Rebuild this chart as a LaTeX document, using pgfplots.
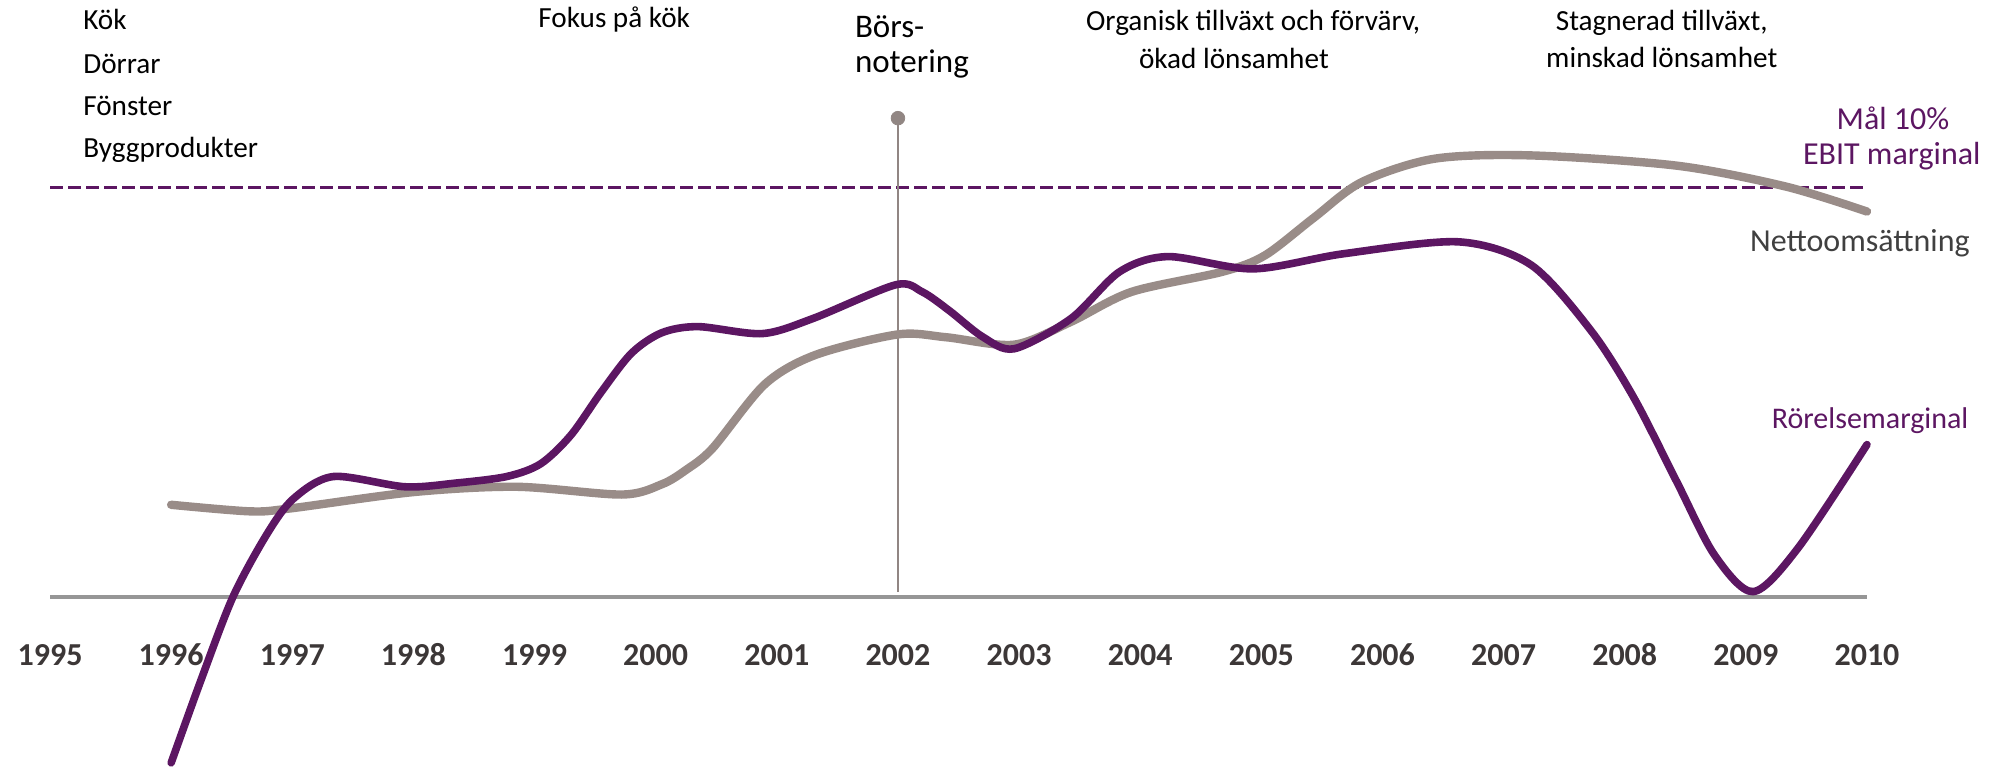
\documentclass[border=0pt]{standalone}
\usepackage{fontspec}
\setmainfont{Carlito}
\usepackage{pgfplots}
\pgfplotsset{compat=1.18}
\definecolor{nobpurple}{RGB}{92,22,98}
\definecolor{nobgray}{RGB}{153,140,136}
\definecolor{linegray}{RGB}{145,134,131}
\definecolor{basegray}{RGB}{150,150,150}
\definecolor{ticktext}{RGB}{60,55,55}
\definecolor{netto}{RGB}{64,64,64}
\begin{document}
\begin{tikzpicture}
\begin{axis}[
  width=1003.5pt, height=385.5pt, scale only axis,
  xmin=1994.587, xmax=2011.156, ymin=-4.25, ymax=14.575,
  axis x line=middle, axis y line=none,
  x axis line style={draw=none},
  xtick={1995,1996,1997,1998,1999,2000,2001,2002,2003,2004,2005,2006,2007,2008,2009,2010},
  xticklabels={1995,1996,1997,1998,1999,2000,2001,2002,2003,2004,2005,2006,2007,2008,2009,2010},
  major tick length=0pt,
  xticklabel style={anchor=center, yshift=-29pt, font=\fontsize{16}{19}\selectfont\bfseries, text=ticktext},
  ytick=\empty,
]
% baseline
\addplot[basegray, line width=1.6pt] coordinates {(1995,0) (2010,0)};
% target 10% dashed
\addplot[nobpurple, line width=1.5pt, dash pattern=on 6.5pt off 2.5pt] coordinates {(1995,10) (2010,10)};
% listing line
\addplot[linegray, line width=1.4pt] coordinates {(2002,0.12) (2002,11.69)};
\addplot[linegray, only marks, mark=*, mark size=3.4pt] coordinates {(2002,11.69)};
% Nettoomsättning
\addplot[nobgray, line width=4.2pt, smooth, line cap=round] coordinates {
(1996.00,2.25) (1996.65,2.09) (1996.98,2.16) (1998.00,2.56) (1998.85,2.69)
(1999.72,2.50) (2000.05,2.75) (2000.25,3.10) (2000.47,3.63) (2000.90,5.19) (2001.32,5.91)
(2002.00,6.41) (2002.40,6.34) (2002.96,6.16) (2003.43,6.72) (2003.93,7.45)
(2004.68,7.94) (2005.03,8.34) (2005.43,9.25) (2005.83,10.13) (2006.43,10.70)
(2007.23,10.78) (2008.43,10.53) (2009.33,10.02) (2010.00,9.41)};
% Rörelsemarginal
\addplot[nobpurple, line width=3.8pt, smooth, line cap=round] coordinates {
(1996.00,-4.05) (1996.25,-2.0) (1996.51,0.0) (1996.79,1.53) (1997.01,2.40)
(1997.34,2.94) (1997.93,2.69) (1998.35,2.78) (1998.77,2.94) (1999.05,3.25)
(1999.30,3.95) (1999.55,5.00) (1999.80,5.95) (2000.05,6.45) (2000.35,6.60)
(2000.88,6.43) (2001.30,6.80) (2001.98,7.62) (2002.20,7.45) (2002.42,7.00)
(2002.70,6.35) (2002.96,6.06) (2003.43,6.80)
(2003.83,7.94) (2004.23,8.31) (2004.93,8.01) (2005.68,8.38) (2006.63,8.67)
(2007.23,8.10) (2007.73,6.47) (2008.08,4.84) (2008.43,2.81) (2008.74,1.03)
(2009.06,0.13) (2009.43,1.19) (2010.00,3.72)};
% annotations
\begin{scope}[font=\fontsize{14.6}{17}\selectfont]
\node[anchor=west] at (rel axis cs:0.038,0.975) {Kök};
\node[anchor=west] at (rel axis cs:0.038,0.917) {Dörrar};
\node[anchor=west] at (rel axis cs:0.038,0.862) {Fönster};
\node[anchor=west] at (rel axis cs:0.038,0.806) {Byggprodukter};
\node at (rel axis cs:0.306,0.975) {Fokus på kök};
\node at (rel axis cs:0.6244,0.970) {Organisk tillväxt och förvärv,};
\node at (rel axis cs:0.6148,0.924) {ökad lönsamhet};
\node at (rel axis cs:0.828,0.970) {Stagnerad tillväxt,};
\node at (rel axis cs:0.828,0.925) {minskad lönsamhet};
\end{scope}
\node[anchor=west, font=\fontsize{16.5}{19}\selectfont] at (rel axis cs:0.4225,0.965) {Börs-};
\node[anchor=west, font=\fontsize{16.5}{19}\selectfont] at (rel axis cs:0.4225,0.917) {notering};
\node[text=nobpurple, font=\fontsize{16}{19}\selectfont] at (rel axis cs:0.9432,0.847) {Mål 10\%};
\node[text=nobpurple, font=\fontsize{16}{19}\selectfont] at (rel axis cs:0.9426,0.797) {EBIT marginal};
\node[text=netto, font=\fontsize{16}{19}\selectfont] at (rel axis cs:0.9267,0.684) {Nettoomsättning};
\node[text=nobpurple, font=\fontsize{15}{18}\selectfont] at (rel axis cs:0.9318,0.455) {Rörelsemarginal};
\end{axis}
\pgfresetboundingbox
\path (current axis.south west) rectangle (current axis.north east);
\end{tikzpicture}
\end{document}
